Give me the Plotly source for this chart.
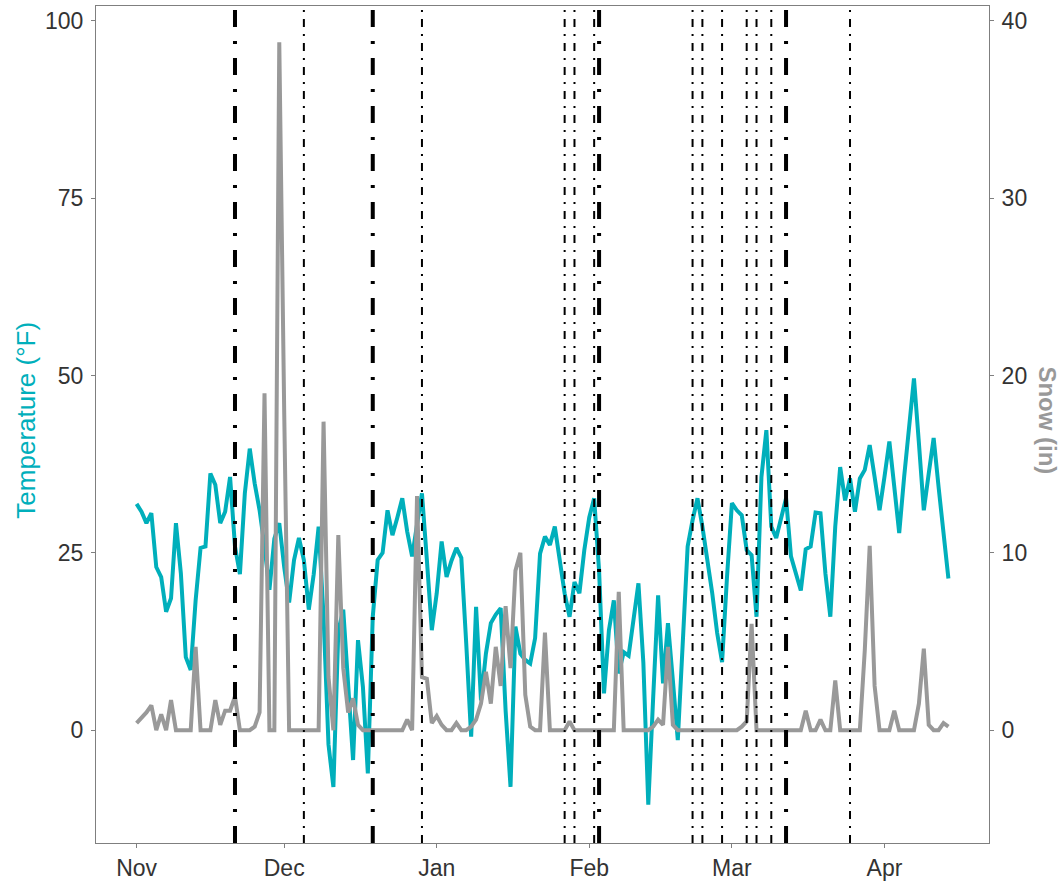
import pandas as pd
import plotly.graph_objects as go

START_DATE = "2019-11-01"

# daily temperature (°F), Nov 1 -> Apr 14
temp_f = [31.9, 30.8, 29.2, 30.6, 23.0, 21.6, 16.7, 18.6, 29.2, 22.1,
          10.3, 8.5, 18.3, 25.7, 25.9, 36.2, 34.6, 29.2, 30.8, 35.7,
          25.9, 22.0, 33.4, 39.7, 34.8, 31.0, 25.9, 19.8, 27.0, 29.2,
          23.0, 18.0, 24.0, 27.1, 24.0, 17.0, 22.0, 28.7, 16.0, -2.0,
          -8.0, 14.0, 17.0, 6.1, -4.2, 12.7, 6.1, -6.1, 16.0, 24.0,
          25.0, 31.0, 27.5, 30.0, 32.7, 28.0, 24.5, 29.0, 33.4, 24.0,
          14.1, 19.3, 26.6, 21.6, 23.9, 25.7, 24.3, 12.2, -0.9, 17.4,
          4.2, 10.8, 15.1, 16.3, 17.2, 2.8, -8.0, 14.6, 10.8, 9.9,
          9.4, 13.0, 24.9, 27.3, 26.1, 28.7, 24.0, 19.3, 16.0, 20.9,
          19.3, 25.4, 30.0, 32.7, 22.5, 5.2, 14.1, 18.3, 8.0, 11.0,
          10.5, 15.5, 20.7, 9.5, -10.5, 4.7, 19.0, 6.6, 15.1, 7.0,
          -1.4, 12.2, 25.9, 29.6, 32.7, 28.7, 24.4, 19.3, 13.7, 9.6,
          21.6, 32.0, 31.0, 30.3, 25.4, 24.7, 16.0, 35.7, 42.3, 28.7,
          27.1, 30.1, 32.7, 24.5, 22.1, 19.7, 25.5, 25.9, 30.7, 30.6,
          22.1, 16.0, 28.7, 37.1, 32.4, 35.5, 30.8, 35.5, 36.7, 40.2,
          35.7, 31.0, 35.7, 40.7, 34.3, 27.8, 35.7, 43.3, 49.6, 40.5,
          31.0, 36.2, 41.2, 34.3, 27.8, 21.4]

# daily snowfall (in)
snow_in = [0.4, 0.7, 1.0, 1.4, 0.0, 0.9, 0.0, 1.7, 0.0, 0.0,
           0.0, 0.0, 4.7, 0.0, 0.0, 0.0, 1.7, 0.3, 1.1, 1.1,
           1.9, 0.0, 0.0, 0.0, 0.2, 1.0, 19.0, 0.0, 0.0, 38.8,
           18.0, 0.0, 0.0, 0.0, 0.0, 0.0, 0.0, 0.0, 17.4, 3.0,
           0.0, 11.0, 3.5, 1.0, 1.8, 0.3, 0.0, 0.0, 0.0, 0.0,
           0.0, 0.0, 0.0, 0.0, 0.0, 0.6, 0.0, 13.2, 3.0, 2.9,
           0.4, 0.8, 0.3, 0.0, 0.0, 0.4, 0.0, 0.0, 0.2, 0.6,
           1.5, 3.3, 1.5, 4.7, 2.5, 7.0, 3.5, 9.0, 10.0, 2.0,
           0.2, 0.0, 0.0, 5.5, 0.0, 0.0, 0.0, 0.0, 0.5, 0.0,
           0.0, 0.0, 0.0, 0.0, 0.0, 0.0, 0.0, 0.0, 7.8, 0.0,
           0.0, 0.0, 0.0, 0.0, 0.0, 0.2, 0.6, 0.3, 4.7, 0.3,
           0.0, 0.0, 0.0, 0.0, 0.0, 0.0, 0.0, 0.0, 0.0, 0.0,
           0.0, 0.0, 0.0, 0.2, 0.5, 6.0, 0.0, 0.0, 0.0, 0.0,
           0.0, 0.0, 0.0, 0.0, 0.0, 0.0, 1.1, 0.0, 0.0, 0.6,
           0.0, 0.0, 2.8, 0.0, 0.0, 0.0, 0.0, 0.0, 4.5, 10.4,
           2.5, 0.0, 0.0, 0.0, 1.1, 0.0, 0.0, 0.0, 0.0, 1.5,
           4.6, 0.3, 0.0, 0.0, 0.4, 0.2]

# event dates (vertical reference lines)
major_events = ["2019-11-21", "2019-12-19", "2020-02-03", "2020-03-12"]
minor_events = ["2019-12-05", "2019-12-29", "2020-01-27", "2020-01-29",
                "2020-02-02", "2020-02-22", "2020-02-24", "2020-02-28",
                "2020-03-04", "2020-03-06", "2020-03-09", "2020-03-25"]

month_ticks = ["2019-11-01", "2019-12-01", "2020-01-01", "2020-02-01",
               "2020-03-01", "2020-04-01"]
month_labels = ["Nov", "Dec", "Jan", "Feb", "Mar", "Apr"]

temp_ticks = [0, 25, 50, 75, 100]
snow_ticks = [0, 10, 20, 30, 40]

TEAL = "#00AFBB"
GREY = "#999999"
FONT = "Liberation Sans, Arial, sans-serif"

dates = pd.date_range(start=START_DATE, periods=len(temp_f), freq="D")

fig = go.Figure()
fig.add_trace(go.Scatter(x=dates, y=temp_f, mode="lines",
                         line=dict(color=TEAL, width=4), yaxis="y",
                         showlegend=False))
fig.add_trace(go.Scatter(x=dates, y=snow_in, mode="lines",
                         line=dict(color=GREY, width=4), yaxis="y2",
                         showlegend=False))

for d in minor_events:
    fig.add_shape(type="line", xref="x", yref="paper", x0=d, x1=d, y0=0, y1=1,
                  line=dict(color="black", width=2, dash="8px,7px,2px,7px"),
                  layer="above")
for d in major_events:
    fig.add_shape(type="line", xref="x", yref="paper", x0=d, x1=d, y0=0, y1=1,
                  line=dict(color="black", width=4, dash="17px,14px,3px,14px"),
                  layer="above")

t0 = pd.Timestamp(START_DATE)
x_lo = t0 - pd.Timedelta(hours=8.25 * 24)
x_hi = t0 + pd.Timedelta(hours=173.25 * 24)
y_lo, y_hi = -15.9, 102.1
ratio = 2.5

axis_common = dict(showgrid=False, zeroline=False, showline=True,
                   linecolor="#7f7f7f", linewidth=1, ticks="outside",
                   ticklen=4, tickcolor="#7f7f7f", automargin=False,
                   tickfont=dict(family=FONT, size=23, color="#333333"))

fig.update_layout(
    width=1064, height=881,
    margin=dict(l=96, r=75, t=6, b=38),
    paper_bgcolor="white", plot_bgcolor="white",
    template="none",
    xaxis=dict(range=[x_lo, x_hi], tickvals=month_ticks, ticktext=month_labels,
               mirror=True, **axis_common),
    yaxis=dict(range=[y_lo, y_hi], tickvals=temp_ticks, mirror=False,
               ticklabelstandoff=3, **axis_common),
    yaxis2=dict(range=[y_lo / ratio, y_hi / ratio], tickvals=snow_ticks,
                overlaying="y", side="right", ticklabelstandoff=3,
                **axis_common),
    annotations=[
        dict(text="Temperature (°F)", xref="paper", yref="paper",
             x=-0.078, y=0.505, textangle=-90, showarrow=False,
             font=dict(family=FONT, size=26, color=TEAL),
             xanchor="center", yanchor="middle"),
        dict(text="<b>Snow (in)</b>", xref="paper", yref="paper",
             x=1.066, y=0.505, textangle=90, showarrow=False,
             font=dict(family=FONT, size=24, color=GREY),
             xanchor="center", yanchor="middle"),
    ],
)

fig.write_html("out.html")
